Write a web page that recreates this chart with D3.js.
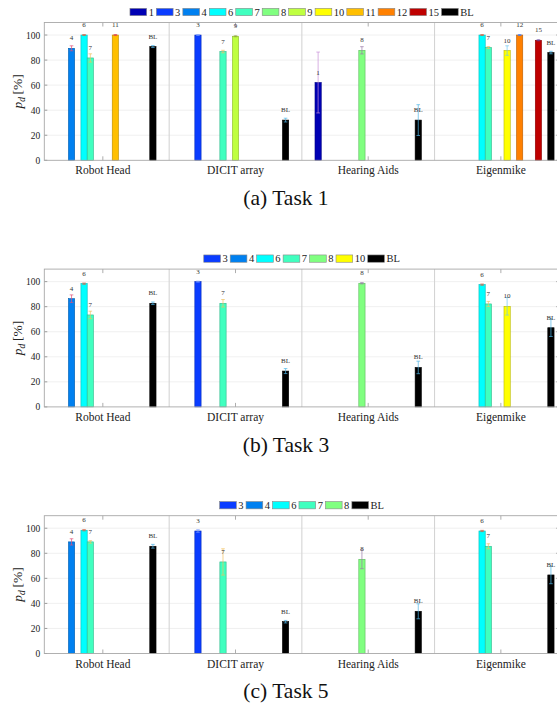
<!DOCTYPE html>
<html><head><meta charset="utf-8">
<script src="https://cdn.jsdelivr.net/npm/d3@7"></script>
<style>body{margin:0;background:#fff}</style>
</head><body>
<script>
// ---------- DATA ----------
const groups = ["Robot Head", "DICIT array", "Hearing Aids", "Eigenmike"];
const yTicks = [0, 20, 40, 60, 80, 100];
const captions = ["(a) Task 1", "(b) Task 3", "(c) Task 5"];

const task1Series = ["1","3","4","6","7","8","9","10","11","12","15","BL"];
const task1Values = [
  [null, null, 62.1, null],
  [null, 100, null, null],
  [89.4, null, null, null],
  [100, null, null, 100],
  [81.7, 86.8, null, 90.0],
  [null, null, 87.8, null],
  [null, 99.0, null, null],
  [null, null, null, 87.6],
  [100, null, null, null],
  [null, null, null, 100],
  [null, null, null, 95.8],
  [90.8, 32.1, 32.1, 86.0]
];
const task1Errors = [
  [0, 0, 24.3, 0],
  [0, 0.4, 0, 0],
  [2.0, 0, 0, 0],
  [0.4, 0, 0, 0.4],
  [3.3, 1.0, 0, 0.8],
  [0, 0, 2.9, 0],
  [0, 0.4, 0, 0],
  [0, 0, 0, 3.8],
  [0.4, 0, 0, 0],
  [0, 0, 0, 0.4],
  [0, 0, 0, 0.4],
  [0.8, 1.5, 12.3, 1.0]
];

const task3Series = ["3","4","6","7","8","10","BL"];
const task3Values = [
  [null, 100, null, null],
  [86.4, null, null, null],
  [98.4, null, null, 97.6],
  [73.4, 82.7, null, 82.2],
  [null, null, 98.7, null],
  [null, null, null, 80.3],
  [82.7, 28.6, 31.5, 63.2]
];
const task3Errors = [
  [0, 0.4, 0, 0],
  [3.0, 0, 0, 0],
  [0.5, 0, 0, 0.5],
  [3.0, 3.0, 0, 2.0],
  [0, 0, 0.5, 0],
  [0, 0, 0, 7.0],
  [1.0, 2.0, 5.0, 7.0]
];

const task5Series = ["3","4","6","7","8","BL"];
const task5Values = [
  [null, 97.8, null, null],
  [89.1, null, null, null],
  [98.4, null, null, 97.8],
  [89.1, 73.1, null, 85.6],
  [null, null, 75.2, null],
  [85.6, 25.4, 33.7, 62.7]
];
const task5Errors = [
  [0, 1.0, 0, 0],
  [2.5, 0, 0, 0],
  [0.5, 0, 0, 0.5],
  [1.0, 10.5, 0, 2.0],
  [0, 0, 7.5, 0],
  [1.5, 1.0, 6.0, 7.0]
];

const seriesColors = {
  "1":"#0000b4","3":"#0a3cff","4":"#0080f0","6":"#00ffff","7":"#40ffbf",
  "8":"#80ff80","9":"#bfff40","10":"#ffff00","11":"#ffbf00","12":"#ff8000",
  "15":"#bf0000","BL":"#000000"
};
const errorColors = {
  "1":"#c890d8","3":"#80a0ff","4":"#e0507a","6":"#e06040","7":"#f0c060",
  "8":"#9a7aa8","9":"#90a040","10":"#70c8f0","11":"#e04050","12":"#4080ff",
  "15":"#6040a0","BL":"#4fb4e6"
};

// ---------- LAYOUT ----------
const SERIF = '"Liberation Serif","DejaVu Serif","Times New Roman",serif';
const W = 557, H = 707;
const svg = d3.select("body").append("svg").attr("width", W).attr("height", H);
svg.append("rect").attr("width", W).attr("height", H).attr("fill", "#fff");

const panelStep = 246.6;
const frameLeft = 44.3, frameRight = 559.3;
const slotIndex = s => s === "BL" ? 17 : +s;

const xGroup = d3.scaleBand().domain(groups).range([36.5, 567.2]).padding(0);
const slotW = xGroup.bandwidth() / 21.2;
const xSlot = d3.scaleLinear().domain([1, 17]).range([-8 * slotW, 8 * slotW]);

function drawPanel(pi, series, values, errors) {
  const dy = pi * panelStep;
  const top = 22.5 + dy, bottom = 160.3 + dy;
  const y = d3.scaleLinear().domain([0, 110]).range([bottom, top]);
  const g = svg.append("g");

  // horizontal grid
  g.selectAll(".hg").data(yTicks.filter(t => t > 0)).join("line")
    .attr("x1", frameLeft).attr("x2", frameRight)
    .attr("y1", d => y(d)).attr("y2", d => y(d))
    .attr("stroke", "#ececec").attr("stroke-width", 0.8);

  // group separators
  g.selectAll(".vs").data(groups.slice(1)).join("line")
    .attr("x1", d => xGroup(d)).attr("x2", d => xGroup(d))
    .attr("y1", top).attr("y2", bottom)
    .attr("stroke", "#d4d4d4").attr("stroke-width", 1.1);

  // y axis ticks & labels
  const yAxis = d3.axisLeft(y).tickValues(yTicks).tickSize(0).tickPadding(4);
  const ya = g.append("g").attr("transform", `translate(${frameLeft},0)`).call(yAxis);
  ya.attr("font-family", null);
  ya.select(".domain").remove();
  ya.selectAll("text").attr("font-size", 9.5).attr("fill", "#222")
    .style("font-family", SERIF);
  g.selectAll(".ytl").data(yTicks).join("line")
    .attr("x1", frameLeft).attr("x2", frameLeft + 3)
    .attr("y1", d => y(d)).attr("y2", d => y(d)).attr("stroke", "#777").attr("stroke-width", 0.7);
  g.selectAll(".ytr").data(yTicks).join("line")
    .attr("x1", frameRight - 3).attr("x2", frameRight)
    .attr("y1", d => y(d)).attr("y2", d => y(d)).attr("stroke", "#777").attr("stroke-width", 0.7);

  // x axis labels
  const xAxis = d3.axisBottom(xGroup).tickSize(0).tickPadding(6);
  const xa = g.append("g").attr("transform", `translate(0,${bottom})`).call(xAxis);
  xa.attr("font-family", null);
  xa.select(".domain").remove();
  xa.selectAll("text").attr("font-size", 11.5).attr("fill", "#222")
    .style("font-family", SERIF);
  const cx = d => xGroup(d) + xGroup.bandwidth() / 2;
  g.selectAll(".xtt").data(groups).join("line")
    .attr("x1", cx).attr("x2", cx).attr("y1", top).attr("y2", top + 4)
    .attr("stroke", "#999").attr("stroke-width", 0.8);
  g.selectAll(".xtb").data(groups).join("line")
    .attr("x1", cx).attr("x2", cx).attr("y1", bottom).attr("y2", bottom - 4)
    .attr("stroke", "#999").attr("stroke-width", 0.8);

  // bars
  const recs = [];
  series.forEach((s, si) => {
    groups.forEach((gr, gi) => {
      const v = values[si][gi];
      if (v !== null && v !== undefined) recs.push({s, gr, v, e: errors[si][gi]});
    });
  });
  const bx = d => cx(d.gr) + xSlot(slotIndex(d.s));
  g.selectAll(".bar").data(recs).join("rect")
    .attr("x", d => bx(d) - slotW / 2).attr("width", slotW)
    .attr("y", d => y(d.v)).attr("height", d => bottom - y(d.v))
    .attr("fill", d => seriesColors[d.s])
    .attr("stroke", d => d3.color(seriesColors[d.s]).darker(0.9).formatHex())
    .attr("stroke-width", 0.6);

  // error bars
  const eb = g.selectAll(".eb").data(recs.filter(d => d.e > 0)).join("g")
    .attr("stroke", d => errorColors[d.s]).attr("stroke-width", 0.7);
  eb.append("line").attr("x1", bx).attr("x2", bx)
    .attr("y1", d => y(d.v - d.e)).attr("y2", d => y(d.v + d.e));
  eb.append("line").attr("x1", d => bx(d) - 1.8).attr("x2", d => bx(d) + 1.8)
    .attr("y1", d => y(d.v - d.e)).attr("y2", d => y(d.v - d.e));
  eb.append("line").attr("x1", d => bx(d) - 1.8).attr("x2", d => bx(d) + 1.8)
    .attr("y1", d => y(d.v + d.e)).attr("y2", d => y(d.v + d.e));

  // bar labels
  g.selectAll(".bl").data(recs).join("text")
    .attr("x", bx).attr("y", d => y(d.v) - 8)
    .attr("text-anchor", "middle").attr("font-size", 7).attr("fill", "#333")
    .style("font-family", SERIF)
    .text(d => d.s);

  // frame
  g.append("rect").attr("x", frameLeft).attr("y", top)
    .attr("width", frameRight - frameLeft).attr("height", bottom - top)
    .attr("fill", "none").attr("stroke", "#a8a8a8").attr("stroke-width", 0.9);

  // y label
  const yl = g.append("text")
    .attr("transform", `translate(22,${(top + bottom) / 2}) rotate(-90)`)
    .attr("text-anchor", "middle").attr("font-size", 13.5).attr("fill", "#222")
    .style("font-family", SERIF);
  yl.append("tspan").attr("font-style", "italic").text("p");
  yl.append("tspan").attr("font-style", "italic").attr("font-size", 9.5).attr("dy", 2.5).text("d");
  yl.append("tspan").attr("dy", -2.5).text("\u2009[%]");

  // legend
  const lg = g.append("g");
  const sw = 16.7, sh = 7.3, ly = 12 + dy;
  let xpos = 0;
  const items = [];
  series.forEach(s => {
    const it = lg.append("g");
    it.append("rect").attr("x", 0).attr("y", -sh / 2).attr("width", sw).attr("height", sh)
      .attr("fill", seriesColors[s]).attr("stroke", "#888").attr("stroke-width", 0.6);
    const t = it.append("text").attr("x", sw + 2).attr("y", 3.6)
      .attr("font-size", 10.5).attr("fill", "#222").style("font-family", SERIF).text(s);
    const tw = t.node().getComputedTextLength();
    items.push({it, x: xpos});
    xpos += sw + 2 + tw + 2.5;
  });
  const totalW = xpos - 2.5;
  const lx0 = (frameLeft + frameRight) / 2 - totalW / 2;
  items.forEach(d => d.it.attr("transform", `translate(${lx0 + d.x},${ly})`));

  // caption
  svg.append("text").attr("x", 286).attr("y", 205 + dy)
    .attr("text-anchor", "middle").attr("font-size", 21.5).attr("fill", "#111")
    .style("font-family", SERIF)
    .text(captions[pi]);
}

drawPanel(0, task1Series, task1Values, task1Errors);
drawPanel(1, task3Series, task3Values, task3Errors);
drawPanel(2, task5Series, task5Values, task5Errors);
</script>
</body></html>
